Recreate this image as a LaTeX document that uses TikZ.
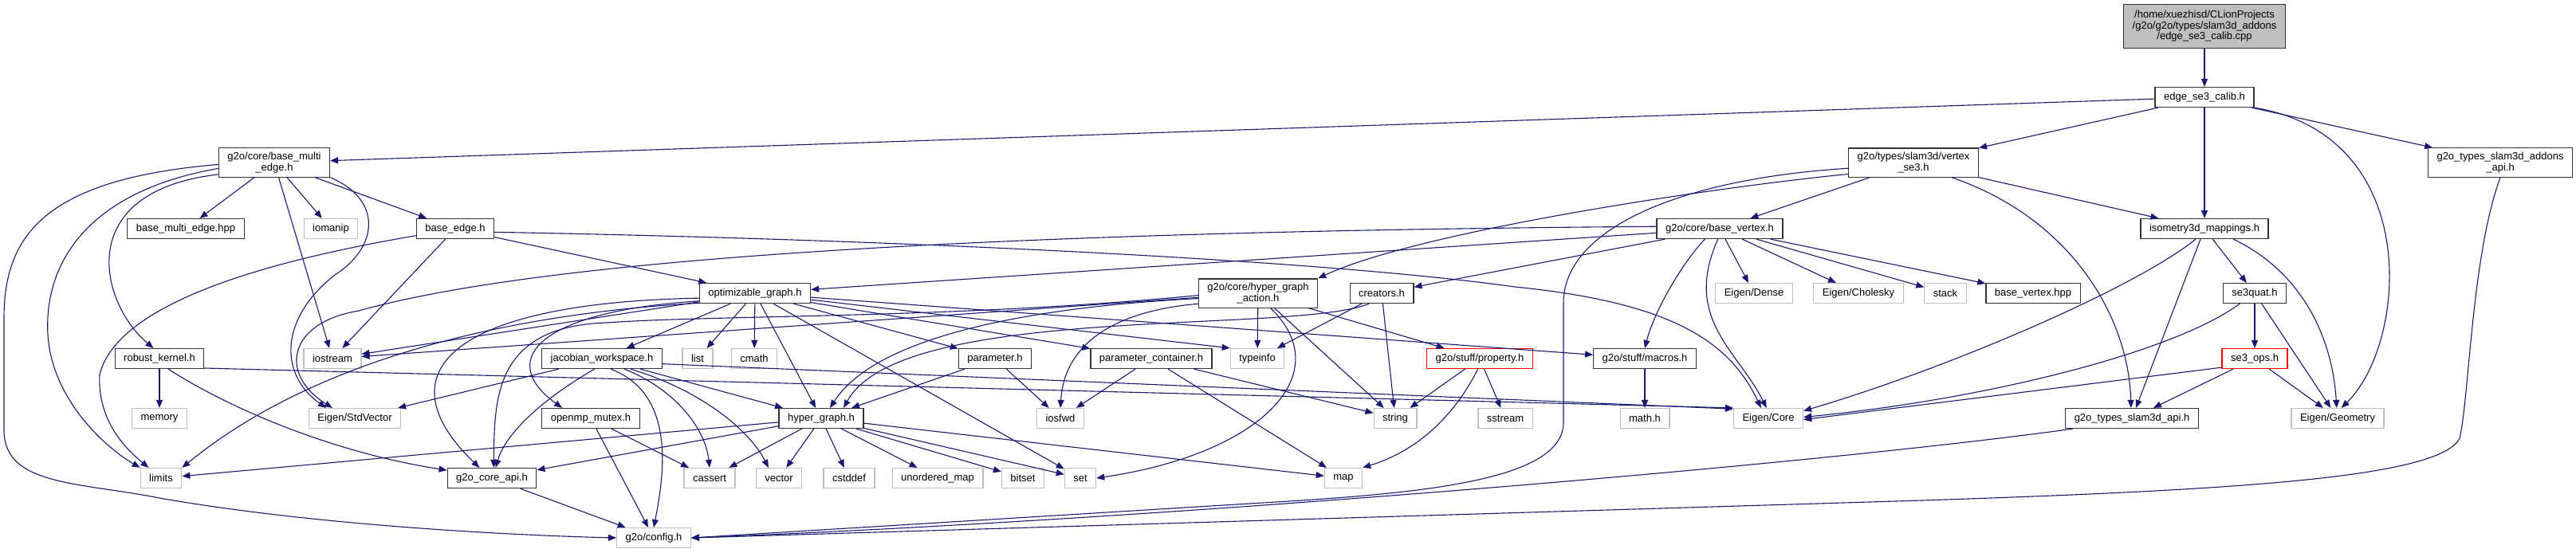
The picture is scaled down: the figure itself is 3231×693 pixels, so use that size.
\documentclass[tikz,border=0pt]{standalone}
\usepackage{fontspec}
\setmainfont{Liberation Sans}
\usetikzlibrary{arrows.meta}
\definecolor{edgeblue}{HTML}{191970}
\definecolor{sysgray}{HTML}{BFBFBF}

\begin{document}
\begin{tikzpicture}[x=0.5pt, y=-0.5pt,
  every node/.style={font=\fontsize{6.5pt}{6.7pt}\selectfont, align=center,
    inner xsep=5.5pt, inner ysep=2.7pt, minimum height=12.5pt, line width=0.6pt},
  incl/.style={draw=black!80},
  sysh/.style={draw=sysgray},
  redh/.style={draw=red},
  srcfile/.style={draw=black!80, fill=sysgray},
  dep/.style={edgeblue, line width=0.55pt, -{Triangle[length=5pt,width=4pt]}}]
  \useasboundingbox (0,0) rectangle (3231,693);

  % Source file and its header
  \node[srcfile, minimum height=27.5pt] (mainf) at (2765,33) {/home/xuezhisd/CLionProjects\\/g2o/g2o/types/slam3d\_addons\\/edge\_se3\_calib.cpp};
  \node[incl] (calib) at (2765,122) {edge\_se3\_calib.h};
  % Row 2
  \node[incl] (bme) at (344,204) {g2o/core/base\_multi\\\_edge.h};
  \node[incl] (vse3) at (2400,204) {g2o/types/slam3d/vertex\\\_se3.h};
  \node[incl] (addapi) at (3136,204) {g2o\_types\_slam3d\_addons\\\_api.h};
  % Row 3
  \node[incl] (bmehpp) at (233,287) {base\_multi\_edge.hpp};
  \node[sysh] (iomanip) at (415,287) {iomanip};
  \node[incl] (bedge) at (571,287) {base\_edge.h};
  \node[incl] (bvertex) at (2157,287) {g2o/core/base\_vertex.h};
  \node[incl] (iso) at (2765,287) {isometry3d\_mappings.h};
  % Row 4
  \node[incl] (optg) at (947,368) {optimizable\_graph.h};
  \node[incl] (hga) at (1578,368) {g2o/core/hyper\_graph\\\_action.h};
  \node[incl] (creators) at (1733,368) {creators.h};
  \node[sysh] (edense) at (2200,368) {Eigen/Dense};
  \node[sysh] (echol) at (2331,368) {Eigen/Cholesky};
  \node[sysh] (stack) at (2440,368) {stack};
  \node[incl] (bvhpp) at (2550,368) {base\_vertex.hpp};
  \node[incl] (se3quat) at (2828,368) {se3quat.h};
  % Row 5
  \node[incl] (robust) at (200,450) {robust\_kernel.h};
  \node[sysh] (iostream) at (417,450) {iostream};
  \node[incl] (jacws) at (755,450) {jacobian\_workspace.h};
  \node[sysh] (list) at (875,450) {list};
  \node[sysh] (cmath) at (946,450) {cmath};
  \node[incl] (param) at (1248,450) {parameter.h};
  \node[incl] (paramc) at (1444,450) {parameter\_container.h};
  \node[sysh] (typeinfo) at (1577,450) {typeinfo};
  \node[redh] (property) at (1856,450) {g2o/stuff/property.h};
  \node[incl] (macros) at (2063,450) {g2o/stuff/macros.h};
  \node[redh] (se3ops) at (2828,450) {se3\_ops.h};
  % Row 6
  \node[sysh] (memory) at (200,525) {memory};
  \node[sysh] (stdvec) at (445,525) {Eigen/StdVector};
  \node[incl] (openmp) at (741,525) {openmp\_mutex.h};
  \node[incl] (hg) at (1030,525) {hyper\_graph.h};
  \node[sysh] (iosfwd) at (1330,525) {iosfwd};
  \node[sysh] (string) at (1750,525) {string};
  \node[sysh] (sstream) at (1888,525) {sstream};
  \node[sysh] (mathh) at (2063,525) {math.h};
  \node[sysh] (ecore) at (2218,525) {Eigen/Core};
  \node[incl] (slamapi) at (2674,525) {g2o\_types\_slam3d\_api.h};
  \node[sysh] (egeom) at (2932,525) {Eigen/Geometry};
  % Row 7
  \node[sysh] (limits) at (202,600) {limits};
  \node[incl] (coreapi) at (617,600) {g2o\_core\_api.h};
  \node[sysh] (cassert) at (890,600) {cassert};
  \node[sysh] (vector) at (977,600) {vector};
  \node[sysh] (cstddef) at (1065,600) {cstddef};
  \node[sysh] (umap) at (1176,600) {unordered\_map};
  \node[sysh] (bitset) at (1283,600) {bitset};
  \node[sysh] (set) at (1355,600) {set};
  \node[sysh] (map) at (1685,600) {map};
  % Bottom
  \node[sysh] (config) at (820,675) {g2o/config.h};

  % Edges
  \draw[dep] (mainf) -- (calib);
  \foreach \t in {bme,vse3,iso,addapi}
    \draw[dep] (calib) -- (\t);
  \draw[dep] (calib.south east) .. controls (3040,170) and (3020,430) .. (egeom.70);
  \draw[dep] (addapi.south) .. controls (3100,320) and (3097,500) .. (3085,550)
    .. controls (3060,600) and (2800,615) .. (2410,628) -- (config.east);

  % vertex_se3.h
  \draw[dep] (vse3) -- (bvertex);
  \draw[dep] (vse3) -- (iso);
  \draw[dep] ([xshift=24pt]vse3.south) .. controls (2600,275) and (2670,400) .. (slamapi.95);
  \draw[dep] (vse3.190) .. controls (2150,235) and (1780,290) .. (hga.north east);
  \draw[dep] (vse3.185) .. controls (2100,225) and (1961,290) .. (1961,380) -- (1961,530)
    .. controls (1961,600) and (1800,618) .. (1600,630) -- (config.east);

  % base_multi_edge.h
  \foreach \t in {bmehpp,iomanip,iostream,bedge}
    \draw[dep] (bme) -- (\t);
  \draw[dep] (bme.182) .. controls (50,225) and (5,300) .. (5,400) -- (5,540)
    .. controls (5,610) and (100,605) .. (200,625) .. controls (400,660) and (650,672) .. (config.west);
  \draw[dep] (bme.186) .. controls (110,240) and (55,330) .. (60,420)
    .. controls (65,500) and (130,560) .. (limits.north west);
  \draw[dep] (bme.192) .. controls (90,240) and (125,380) .. (robust.120);
  \draw[dep] (bme.south east) .. controls (480,250) and (475,310) .. (420,345)
    .. controls (350,400) and (350,470) .. (stdvec.160);

  % base_edge.h
  \foreach \t in {iostream,optg}
    \draw[dep] (bedge) -- (\t);
  \draw[dep] (bedge.190) .. controls (380,320) and (150,370) .. (125,470)
    .. controls (122,530) and (160,565) .. (limits.140);
  \draw[dep] (bedge.-5) .. controls (1100,300) and (1650,325) .. (1900,360)
    .. controls (2100,380) and (2170,430) .. (ecore.125);

  % robust_kernel.h
  \draw[dep] (robust) -- (memory);
  \draw[dep] (robust.-50) .. controls (300,520) and (430,570) .. (coreapi.170);
  \draw[dep] (robust.-12) -- (ecore.north west);

  % jacobian_workspace.h
  \foreach \t in {stdvec,hg}
    \draw[dep] (jacws) -- (\t);
  \draw[dep] (jacws.-5) -- (ecore.165);
  \draw[dep] (jacws.-125) .. controls (690,495) and (635,540) .. (coreapi.70);
  \draw[dep] (jacws.-50) .. controls (850,495) and (832,600) .. (config.north);
  \draw[dep] (jacws.-25) .. controls (850,490) and (885,540) .. (cassert.north);
  \draw[dep] (jacws.-20) .. controls (880,490) and (940,540) .. (vector.135);

  % openmp_mutex.h, g2o_core_api.h
  \foreach \t in {config,cassert}
    \draw[dep] (openmp) -- (\t);
  \draw[dep] (coreapi) -- (config);

  % optimizable_graph.h
  \foreach \t in {jacws,list,cmath,hg,set,param,paramc,macros,iostream}
    \draw[dep] (optg) -- (\t);
  \draw[dep] (optg) -- (typeinfo.north west);
  \draw[dep] (optg.190) .. controls (700,390) and (420,430) .. (limits.north east);
  \draw[dep] (optg.185) .. controls (560,380) and (480,470) .. (coreapi.140);
  \draw[dep] (optg.188) .. controls (680,390) and (620,450) .. (openmp.160);

  % hyper_graph_action.h
  \foreach \t in {typeinfo,property,string,iostream}
    \draw[dep] (hga) -- (\t);
  \draw[dep] (hga.-50) .. controls (1680,470) and (1580,570) .. (set.east);
  \draw[dep] (hga.190) .. controls (1400,390) and (1335,430) .. (iosfwd.north);
  \draw[dep] (hga.185) .. controls (1300,385) and (1100,420) .. (hg.50);
  \draw[dep] (hga.182) .. controls (1200,400) and (900,395) .. (760,405)
    .. controls (620,410) and (620,500) .. (coreapi.80);

  % creators.h
  \foreach \t in {string,typeinfo}
    \draw[dep] (creators) -- (\t);
  \draw[dep] (creators.220) .. controls (1620,420) and (1130,380) .. (hg.25);

  % property.h, macros.h
  \foreach \t in {string,sstream}
    \draw[dep] (property) -- (\t);
  \draw[dep] (property.-100) .. controls (1825,520) and (1780,565) .. (map.north east);
  \draw[dep] (macros) -- (mathh);

  % parameter.h, parameter_container.h
  \foreach \t in {hg,iosfwd}
    \draw[dep] (param) -- (\t);
  \foreach \t in {iosfwd,map,string}
    \draw[dep] (paramc) -- (\t);

  % hyper_graph.h
  \foreach \t in {limits,coreapi,cassert,vector,cstddef,umap,bitset,set,map}
    \draw[dep] (hg) -- (\t);

  % base_vertex.h
  \foreach \t in {optg,creators,edense,echol,stack,bvhpp}
    \draw[dep] (bvertex) -- (\t);
  \draw[dep] (bvertex.178) .. controls (1300,290) and (700,320) .. (450,390)
    .. controls (360,405) and (350,470) .. (stdvec.155);
  \draw[dep] (bvertex.-145) .. controls (2110,330) and (2075,390) .. (macros.north);
  \draw[dep] (bvertex.-100) .. controls (2110,400) and (2180,440) .. (ecore.100);

  % isometry3d_mappings.h
  \foreach \t in {se3quat,slamapi}
    \draw[dep] (iso) -- (\t);
  \draw[dep] (iso.-20) .. controls (2885,340) and (2925,420) .. (egeom.95);
  \draw[dep] (iso.-130) .. controls (2680,360) and (2450,460) .. (ecore.12);

  % se3quat.h, se3_ops.h
  \foreach \t in {se3ops,egeom}
    \draw[dep] (se3quat) -- (\t);
  \draw[dep] (se3quat.-145) .. controls (2730,440) and (2500,500) .. (ecore.2);
  \foreach \t in {slamapi,egeom}
    \draw[dep] (se3ops) -- (\t);
  \draw[dep] (se3ops.-165) -- (ecore.-2);

  % g2o_types_slam3d_api.h
  \draw[dep] (slamapi.-170) .. controls (2300,580) and (1500,650) .. (config.east);
\end{tikzpicture}
\end{document}
